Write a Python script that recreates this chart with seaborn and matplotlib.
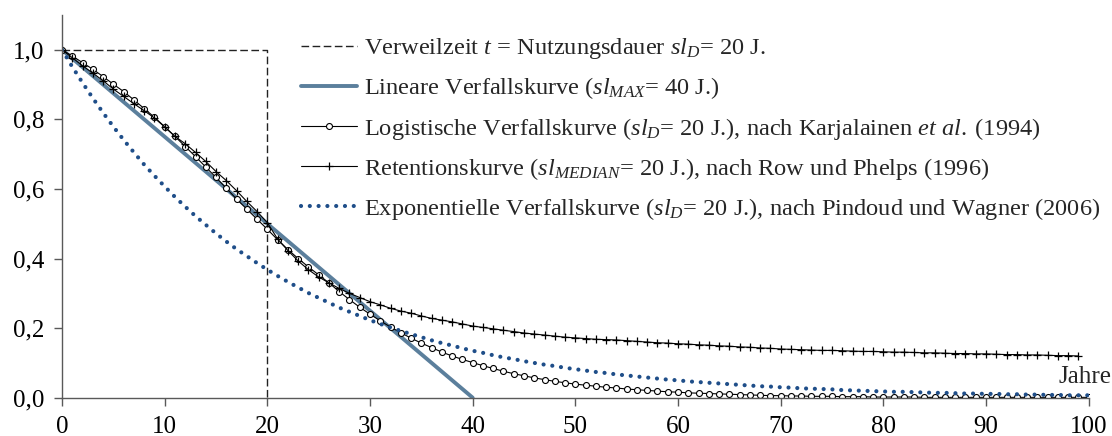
import seaborn as sns
import matplotlib
matplotlib.use("Agg")
import matplotlib.pyplot as plt

# Werte je Jahr
jahre = list(range(0, 101))

verweil_x = [0, 20, 20]
verweil_y = [1.0, 1.0, 0.0]

linear_x = [0, 40]
linear_y = [1.0, 0.0]

logistisch = [1.000, 0.982, 0.963, 0.944, 0.923, 0.901, 0.880, 0.856, 0.831, 0.806,
              0.779, 0.751, 0.722, 0.693, 0.663, 0.633, 0.602, 0.571, 0.542, 0.513,
              0.484, 0.454, 0.426, 0.400, 0.376, 0.353, 0.330, 0.305, 0.282, 0.260,
              0.240, 0.221, 0.203, 0.187, 0.171, 0.157, 0.144, 0.131, 0.120, 0.110,
              0.101, 0.092, 0.084, 0.076, 0.069, 0.063, 0.057, 0.052, 0.047, 0.043,
              0.039, 0.036, 0.033, 0.030, 0.028, 0.025, 0.023, 0.021, 0.019, 0.017,
              0.016, 0.014, 0.013, 0.012, 0.011, 0.010, 0.009, 0.008, 0.007, 0.006,
              0.006, 0.005, 0.005, 0.004, 0.004, 0.004, 0.003, 0.003, 0.003, 0.002,
              0.002, 0.002, 0.002, 0.002, 0.001, 0.001, 0.001, 0.001, 0.001, 0.001,
              0.001, 0.001, 0.001, 0.001, 0.001, 0.001, 0.001, 0.001, 0.001, 0.001,
              0.001]

retention = [1.000, 0.977, 0.954, 0.933, 0.911, 0.887, 0.866, 0.845, 0.825, 0.804,
             0.778, 0.751, 0.730, 0.705, 0.679, 0.650, 0.624, 0.595, 0.564, 0.535,
             0.503, 0.456, 0.423, 0.393, 0.368, 0.347, 0.330, 0.314, 0.300, 0.288,
             0.276, 0.267, 0.257, 0.249, 0.243, 0.235, 0.228, 0.223, 0.218, 0.212,
             0.206, 0.202, 0.198, 0.194, 0.190, 0.186, 0.183, 0.180, 0.177, 0.174,
             0.172, 0.170, 0.168, 0.167, 0.166, 0.164, 0.162, 0.160, 0.158, 0.157,
             0.155, 0.154, 0.152, 0.151, 0.149, 0.148, 0.146, 0.145, 0.143, 0.142,
             0.140, 0.139, 0.138, 0.137, 0.136, 0.136, 0.135, 0.134, 0.133, 0.133,
             0.132, 0.131, 0.131, 0.130, 0.129, 0.129, 0.128, 0.127, 0.127, 0.126,
             0.126, 0.125, 0.124, 0.124, 0.123, 0.123, 0.122, 0.121, 0.121, 0.120]

exponentiell = [1.000, 0.951, 0.905, 0.861, 0.819, 0.779, 0.741, 0.705, 0.670, 0.638,
                0.607, 0.577, 0.549, 0.522, 0.497, 0.472, 0.449, 0.427, 0.407, 0.387,
                0.368, 0.350, 0.333, 0.317, 0.301, 0.287, 0.273, 0.259, 0.247, 0.235,
                0.223, 0.212, 0.202, 0.192, 0.183, 0.174, 0.165, 0.157, 0.150, 0.142,
                0.135, 0.129, 0.122, 0.116, 0.111, 0.105, 0.100, 0.095, 0.091, 0.086,
                0.082, 0.078, 0.074, 0.071, 0.067, 0.064, 0.061, 0.058, 0.055, 0.052,
                0.050, 0.047, 0.045, 0.043, 0.041, 0.039, 0.037, 0.035, 0.033, 0.032,
                0.030, 0.029, 0.027, 0.026, 0.025, 0.024, 0.022, 0.021, 0.020, 0.019,
                0.018, 0.017, 0.017, 0.016, 0.015, 0.014, 0.014, 0.013, 0.012, 0.012,
                0.011, 0.011, 0.010, 0.010, 0.009, 0.009, 0.008, 0.008, 0.007, 0.007,
                0.007]

x_ticks = [0, 10, 20, 30, 40, 50, 60, 70, 80, 90, 100]
y_ticks = [0.0, 0.2, 0.4, 0.6, 0.8, 1.0]
y_tick_labels = ["0,0", "0,2", "0,4", "0,6", "0,8", "1,0"]

labels = [
    r"Verweilzeit $t$ = Nutzungsdauer $sl_D$= 20 J.",
    r"Lineare Verfallskurve ($sl_{MAX}$= 40 J.)",
    r"Logistische Verfallskurve ($sl_D$= 20 J.), nach Karjalainen $et\ al.$" + "\u2009(1994)",
    r"Retentionskurve ($sl_{MEDIAN}$= 20 J.), nach Row und Phelps (1996)",
    r"Exponentielle Verfallskurve ($sl_D$= 20 J.), nach Pindoud und Wagner (2006)",
]

sns.set_theme(style="white")
plt.rcParams['font.family'] = ['Liberation Serif', 'DejaVu Serif']
plt.rcParams['mathtext.fontset'] = 'custom'
plt.rcParams['mathtext.rm'] = 'Liberation Serif'
plt.rcParams['mathtext.it'] = 'Liberation Serif:italic'

fig, ax = plt.subplots(figsize=(11.12, 4.36), dpi=100)
fig.subplots_adjust(left=0.0558, right=0.979, bottom=0.0878, top=0.9656)

common = dict(ax=ax, estimator=None, sort=False)
sns.lineplot(x=verweil_x, y=verweil_y, color='#222222', linewidth=1.0,
             linestyle=(0, (5.5, 2.5)), label=labels[0], **common)
sns.lineplot(x=linear_x, y=linear_y, color='#5b7f9c', linewidth=2.8,
             label=labels[1], **common)
sns.lineplot(x=jahre, y=logistisch, color='black', linewidth=0.8, marker='o',
             markersize=4.3, markerfacecolor='white', markeredgecolor='black',
             markeredgewidth=0.8, label=labels[2], **common)
sns.lineplot(x=jahre[:len(retention)], y=retention, color='black', linewidth=0.8,
             marker='+', markersize=6, markeredgewidth=0.9, markeredgecolor='black',
             label=labels[3], **common)
sns.lineplot(x=jahre, y=exponentiell, color='#1f4e89', linewidth=3.0,
             linestyle=(0, (0.01, 2.1)), dash_capstyle='round', label=labels[4], **common)

ax.set_xlim(0, 100)
ax.set_ylim(0, 1.1)
ax.set_xticks(x_ticks)
ax.set_xticklabels([str(v) for v in x_ticks])
ax.set_yticks(y_ticks)
ax.set_yticklabels(y_tick_labels)
ax.tick_params(axis='both', direction='out', length=6, width=1, color='#595959',
               labelsize=18, labelcolor='black', pad=7, bottom=True, left=True)
ax.set_xlabel('')
ax.set_ylabel('')
for side in ['top', 'right']:
    ax.spines[side].set_visible(False)
for side in ['left', 'bottom']:
    ax.spines[side].set_color('#595959')
    ax.spines[side].set_linewidth(1.0)
ax.grid(False)

ax.text(99.6, 0.042, 'Jahre', ha='center', va='baseline', fontsize=18)

ax.legend(loc='upper left', bbox_to_anchor=(0.223, 0.97), frameon=False,
          fontsize=17.6, handlelength=2.3, handletextpad=0.3, labelspacing=0.58,
          borderaxespad=0)

plt.savefig('out.png', dpi=100)
